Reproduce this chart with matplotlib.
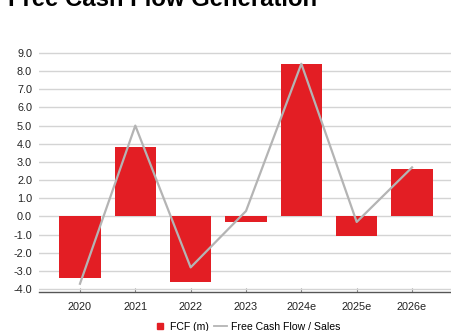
import matplotlib.pyplot as plt
from matplotlib.lines import Line2D

plt.rcParams['font.family'] = ['Liberation Sans', 'DejaVu Sans']

years = ['2020', '2021', '2022', '2023', '2024e', '2025e', '2026e']
fcf = [-3.4, 3.8, -3.6, -0.3, 8.4, -1.1, 2.6]
fcf_sales = [-3.7, 5.0, -2.8, 0.3, 8.4, -0.3, 2.7]
yticks = [9, 8, 7, 6, 5, 4, 3, 2, 1, 0, -1, -2, -3, -4]

red = '#e31e24'
grey = '#b4b4b4'

fig = plt.figure(figsize=(4.51, 3.31), dpi=100)
ax = fig.add_axes([39 / 451, 0.118, 414 / 451, 0.725])

x = range(len(years))
ax.bar(x, fcf, width=0.75, color=red, zorder=2)
ax.plot(x, fcf_sales, color=grey, lw=1.6, zorder=3)

ax.set_xlim(-0.74, 6.74)
ax.set_ylim(-4.15, 9.05)
ax.set_yticks(yticks)
ax.set_yticklabels(['%.1f' % v for v in yticks])
ax.set_xticks(list(x))
ax.set_xticklabels(years)
ax.grid(axis='y', color='#d4d4d4', lw=1.0, zorder=0)
ax.set_axisbelow(True)

for s in ['top', 'right', 'left']:
    ax.spines[s].set_visible(False)
ax.spines['bottom'].set_color('#555555')
ax.spines['bottom'].set_linewidth(1.0)
ax.tick_params(axis='y', length=0, pad=5, labelsize=7.8, labelcolor='#222222')
ax.tick_params(axis='x', direction='in', length=3, color='#888888', pad=7,
               labelsize=7.8, labelcolor='#222222')

# title is cropped at the top in the reference
fig.text(8 / 451, 1.0 - 6 / 331, 'Free Cash Flow Generation', fontsize=17.2,
         fontweight='bold', ha='left', va='baseline')

handles = [Line2D([], [], color=red, marker='s', ls='none', markersize=5),
           Line2D([], [], color=grey, lw=1.3)]
fig.legend(handles, ['FCF (m)', 'Free Cash Flow / Sales'], loc='center',
           bbox_to_anchor=(247 / 451, 4.5 / 331), ncol=2, frameon=False,
           fontsize=7.6, handlelength=1.2, handletextpad=0.4,
           columnspacing=0.5, borderpad=0, borderaxespad=0)

fig.savefig('out.png', dpi=100)
